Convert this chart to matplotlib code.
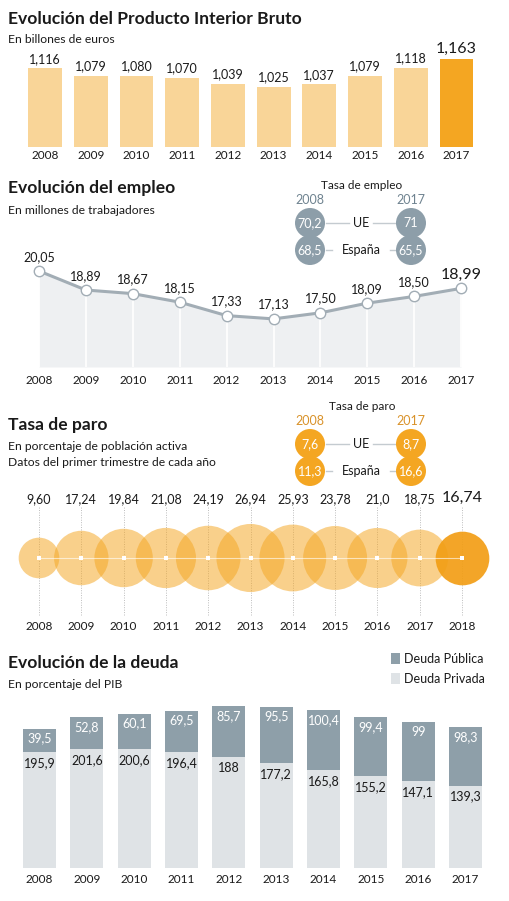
import matplotlib
matplotlib.use("Agg")
import matplotlib.pyplot as plt
from matplotlib.patches import Circle, Rectangle

plt.rcParams['font.family'] = ['Lato', 'DejaVu Sans']

W, H = 510, 901

# --- data ---
years = ['2008', '2009', '2010', '2011', '2012', '2013', '2014', '2015', '2016', '2017']
pib = [1.116, 1.079, 1.080, 1.070, 1.039, 1.025, 1.037, 1.079, 1.118, 1.163]

empleo = [20.05, 18.89, 18.67, 18.15, 17.33, 17.13, 17.50, 18.09, 18.50, 18.99]
tasa_empleo_ue = [70.2, 71]
tasa_empleo_es = [68.5, 65.5]

paro_years = ['2008', '2009', '2010', '2011', '2012', '2013', '2014', '2015', '2016', '2017', '2018']
paro = [9.60, 17.24, 19.84, 21.08, 24.19, 26.94, 25.93, 23.78, 21.0, 18.75, 16.74]
paro_labels = ['9,60', '17,24', '19,84', '21,08', '24,19', '26,94', '25,93', '23,78', '21,0', '18,75', '16,74']
tasa_paro_ue = [7.6, 8.7]
tasa_paro_es = [11.3, 16.6]

deuda_publica = [39.5, 52.8, 60.1, 69.5, 85.7, 95.5, 100.4, 99.4, 99, 98.3]
deuda_privada = [195.9, 201.6, 200.6, 196.4, 188, 177.2, 165.8, 155.2, 147.1, 139.3]

# colours
ORANGE_L = '#f9d598'
ORANGE = '#f4a622'
GREY_LINE = '#a2adb5'
GREY_FILL = '#eef0f2'
GREY_DOT = '#8d9ea9'
PUB = '#8e9fa9'
PRIV = '#dfe3e6'
TXT = '#1a1a1a'


def fmt(v):
    return f"{v:g}".replace('.', ',')


def ax_px(fig, left, top, width, height):
    return fig.add_axes([left / W, 1 - (top + height) / H, width / W, height / H])


fig = plt.figure(figsize=(W / 100, H / 100), dpi=100)

# overlay for titles and insets, in pixel units
ov = fig.add_axes([0, 0, 1, 1], zorder=5)
ov.set_xlim(0, W)
ov.set_ylim(H, 0)
ov.axis('off')
ov.patch.set_alpha(0)


def title(y, t):
    ov.text(8, y, t, fontsize=12.6, fontweight='bold', color=TXT, va='baseline')


def sub(y, t):
    ov.text(8, y, t, fontsize=8.7, color=TXT, va='baseline')


x = list(range(len(years)))

# ---------------- Panel 1: PIB ----------------
title(24, 'Evolución del Producto Interior Bruto')
sub(43, 'En billones de euros')
ax1 = ax_px(fig, 0, 45, W, 102)
step = 45.72
ax1.set_xlim(-45 / step, (W - 45) / step)
ybot1 = 0.729
ax1.set_ylim(ybot1, ybot1 + 102 / 203.0)
cols = [ORANGE_L] * (len(pib) - 1) + [ORANGE]
ax1.bar(x, pib, width=0.74, color=cols, bottom=0)
for i, v in enumerate(pib):
    last = i == len(pib) - 1
    ax1.annotate(f"{v:.3f}".replace('.', ','), (i, v), xytext=(0, 2.5),
                 textcoords='offset points', ha='center', va='bottom',
                 fontsize=11.5 if last else 9, color=TXT, annotation_clip=False)
    ax1.annotate(years[i], (i, ybot1), xytext=(0, -6), textcoords='offset points',
                 ha='center', va='center', fontsize=8.5, color=TXT, annotation_clip=False)
ax1.axis('off')

# ---------------- Panel 2: empleo ----------------
title(193, 'Evolución del empleo')
sub(214, 'En millones de trabajadores')
ax2 = ax_px(fig, 0, 225, W, 142)
step2 = 46.9
ax2.set_xlim(-39 / step2, (W - 39) / step2)
ybot = 20.05 - 96 / 16.4
ax2.set_ylim(ybot, ybot + 142 / 16.4)
ax2.fill_between(x, empleo, ybot, color=GREY_FILL, lw=0)
ax2.vlines(x, ybot, empleo, color='white', lw=1.2)
ax2.plot(x, empleo, color=GREY_LINE, lw=2.2, marker='o', ms=7.5,
         mfc='white', mec=GREY_LINE, mew=1.0, zorder=3)
for i, v in enumerate(empleo):
    last = i == len(empleo) - 1
    ax2.annotate(f"{v:.2f}".replace('.', ','), (i, v), xytext=(0, 6 if not last else 5),
                 textcoords='offset points', ha='center', va='bottom',
                 fontsize=11.5 if last else 9, color=TXT, annotation_clip=False)
    ax2.annotate(years[i], (i, ybot), xytext=(0, -10), textcoords='offset points',
                 ha='center', va='center', fontsize=8.5, color=TXT, annotation_clip=False)
ax2.axis('off')


def inset(ytitle, ttl, row1, row2, col, yearcol):
    ov.text(362, ytitle, ttl, fontsize=8.5, ha='center', va='baseline', color=TXT)
    ov.text(310, ytitle + 15, '2008', fontsize=9, ha='center', va='baseline', color=yearcol)
    ov.text(411, ytitle + 15, '2017', fontsize=9, ha='center', va='baseline', color=yearcol)
    yy = [ytitle + 34, ytitle + 61]
    for (vals, name, yv) in [(row1, 'UE', yy[0]), (row2, 'España', yy[1])]:
        half = 12 if name == 'UE' else 29
        ov.plot([326, 361 - half], [yv, yv], color='#c4cbd0', lw=1, zorder=1)
        ov.plot([361 + half, 396], [yv, yv], color='#c4cbd0', lw=1, zorder=1)
        ov.text(361, yv, name, fontsize=9, ha='center', va='center', color=TXT)
    for (vals, yv) in [(row1, yy[0]), (row2, yy[1])]:
        for xc, v in zip([310, 411], vals):
            ov.add_patch(Circle((xc, yv), 15, color=col, lw=0, zorder=2))
    for (vals, yv) in [(row1, yy[0]), (row2, yy[1])]:
        for xc, v in zip([310, 411], vals):
            ov.text(xc, yv, fmt(v), fontsize=9, ha='center', va='center', color='white', zorder=3)


inset(189, 'Tasa de empleo', tasa_empleo_ue, tasa_empleo_es, GREY_DOT, '#6f8390')

# ---------------- Panel 3: paro ----------------
title(430, 'Tasa de paro')
sub(450, 'En porcentaje de población activa')
sub(466, 'Datos del primer trimestre de cada año')
inset(410, 'Tasa de paro', tasa_paro_ue, tasa_paro_es, ORANGE, '#d9922a')

ax3 = ax_px(fig, 0, 480, W, 160)
step3 = 42.3
xp = list(range(len(paro)))
ax3.set_xlim(-39 / step3, (W - 39) / step3)
ax3.set_ylim(-(640 - 558), 558 - 480)
ax3.vlines(xp, -57, 51, color='#bdbdbd', lw=0.7, linestyles=(0, (1, 1.5)), zorder=0)
sizes = [89.2 * v for v in paro]
ax3.scatter(xp[:-1], [0] * (len(paro) - 1), s=sizes[:-1], color=ORANGE, alpha=0.52, lw=0, zorder=1)
ax3.scatter(xp[-1:], [0], s=sizes[-1:], color='#f29e15', alpha=0.92, lw=0, zorder=1)
ax3.plot([xp[0], xp[-1]], [0, 0], color='white', lw=0.8, alpha=0.6, zorder=2)
ax3.scatter(xp, [0] * len(paro), s=9, marker='s', color='white', lw=0, zorder=3)
for i, lab in enumerate(paro_labels):
    last = i == len(paro) - 1
    ax3.text(i, 59 if not last else 60, lab, ha='center', va='center',
             fontsize=11.5 if last else 9, color=TXT)
    ax3.text(i, -68, paro_years[i], ha='center', va='center', fontsize=8.5, color=TXT)
ax3.axis('off')

# ---------------- Panel 4: deuda ----------------
title(668, 'Evolución de la deuda')
sub(688, 'En porcentaje del PIB')
ov.add_patch(Rectangle((391, 653), 9, 11, color=PUB, lw=0))
ov.add_patch(Rectangle((391, 673), 9, 11, color=PRIV, lw=0))
ov.text(404, 663, 'Deuda Pública', fontsize=9, va='baseline', color=TXT)
ov.text(404, 683, 'Deuda Privada', fontsize=9, va='baseline', color=TXT)

ax4 = ax_px(fig, 0, 692, W, 176)
step4 = 47.33
ax4.set_xlim(-39.5 / step4, (W - 39.5) / step4)
ax4.set_ylim(0, 176 / 0.592)
ax4.bar(x, deuda_privada, width=0.70, color=PRIV, lw=0)
ax4.bar(x, deuda_publica, bottom=deuda_privada, width=0.70, color=PUB, lw=0)
for i in x:
    top = deuda_privada[i] + deuda_publica[i]
    ax4.annotate(fmt(deuda_publica[i]), (i, top), xytext=(0, -7), textcoords='offset points',
                 ha='center', va='center', fontsize=9, color='white')
    ax4.annotate(fmt(deuda_privada[i]), (i, deuda_privada[i]), xytext=(0, -8), textcoords='offset points',
                 ha='center', va='center', fontsize=9, color=TXT)
    ax4.annotate(years[i], (i, 0), xytext=(0, -8), textcoords='offset points',
                 ha='center', va='center', fontsize=8.5, color=TXT, annotation_clip=False)
ax4.axis('off')

fig.savefig('out.png', dpi=100)
